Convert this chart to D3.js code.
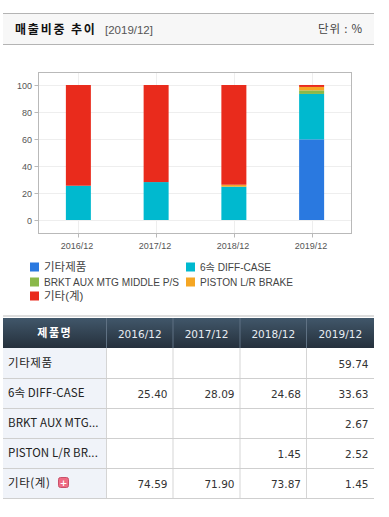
<!DOCTYPE html>
<html>
<head>
<meta charset="utf-8">
<script src="https://cdn.jsdelivr.net/npm/d3@7"></script>
<style>
  html, body { margin: 0; padding: 0; background: #fff; }
  svg { display: block; }
  text { font-family: "DejaVu Sans", "Noto Sans CJK KR", sans-serif; }
  .ko { font-family: "Noto Sans CJK KR", sans-serif; }
  .ar { font-family: "Liberation Sans", "Noto Sans CJK KR", sans-serif; }
</style>
</head>
<body>
<svg id="chart" width="389" height="517"></svg>
<script>
const periods = ["2016/12", "2017/12", "2018/12", "2019/12"];
const products = ["기타제품", "6속 DIFF-CASE", "BRKT AUX MTG MIDDLE P/S", "PISTON L/R BRAKE", "기타(계)"];
const shortNames = ["기타제품", "6속 DIFF-CASE", "BRKT AUX MTG...", "PISTON L/R BR...", "기타(계)"];
const colors = ["#2a79e0", "#00b9cf", "#8ab84a", "#f5a623", "#e92b1c"];
const etcProducts = [null, null, null, 59.74];
const diffCase = [25.40, 28.09, 24.68, 33.63];
const brkt = [null, null, null, 2.67];
const piston = [null, null, 1.45, 2.52];
const etcTotal = [74.59, 71.90, 73.87, 1.45];
const seriesValues = [etcProducts, diffCase, brkt, piston, etcTotal];
const yTicks = [0, 20, 40, 60, 80, 100];

const svg = d3.select("#chart");

// title bar
svg.append("rect").attr("x", 3).attr("y", 14).attr("width", 371).attr("height", 30).attr("fill", "#f7f7f7");
svg.append("line").attr("x1", 3).attr("x2", 374).attr("y1", 13.5).attr("y2", 13.5).attr("stroke", "#b4b4b4");
svg.append("line").attr("x1", 3).attr("x2", 374).attr("y1", 44.5).attr("y2", 44.5).attr("stroke", "#b4b4b4");
svg.append("text").attr("class", "ko").attr("x", 15).attr("y", 34)
  .attr("font-size", 12).attr("font-weight", 700).attr("letter-spacing", 1.8).attr("fill", "#111").text("매출비중 추이");
svg.append("text").attr("class", "ar").attr("x", 105).attr("y", 34)
  .attr("font-size", 11.5).attr("fill", "#555").text("[2019/12]");
svg.append("text").attr("class", "ko").attr("x", 363).attr("y", 33).attr("text-anchor", "end")
  .attr("font-size", 11.5).attr("letter-spacing", 0.8).attr("fill", "#444").text("단위 : %");

// plot
const plotLeft = 38.5, plotRight = 351.5, plotTop = 72.5, plotBottom = 233.5;
const x = d3.scaleBand().domain(periods).range([39.5, 350.5]);
const y = d3.scaleLinear().domain([0, 100]).range([220, 85]);
const barWidth = 25;

const grid = svg.append("g").attr("stroke", "#eeeeee");
yTicks.forEach((t) => {
  grid.append("line").attr("x1", plotLeft).attr("x2", plotRight)
    .attr("y1", Math.round(y(t)) + 0.5).attr("y2", Math.round(y(t)) + 0.5);
});
periods.forEach((p) => {
  const cx = Math.round(x(p) + x.bandwidth() / 2) + 0.5;
  grid.append("line").attr("x1", cx).attr("x2", cx).attr("y1", plotTop).attr("y2", plotBottom);
});

// stacked bars
periods.forEach((p, i) => {
  let total = 0;
  seriesValues.forEach((values, s) => {
    const v = values[i];
    if (v === null) return;
    svg.append("rect")
      .attr("x", x(p) + x.bandwidth() / 2 - barWidth / 2)
      .attr("width", barWidth)
      .attr("y", y(total + v))
      .attr("height", y(total) - y(total + v))
      .attr("fill", colors[s]);
    total += v;
  });
});

svg.append("rect").attr("x", plotLeft).attr("y", plotTop)
  .attr("width", plotRight - plotLeft).attr("height", plotBottom - plotTop)
  .attr("fill", "none").attr("stroke", "#b9b9b9");

// axes labels and ticks
yTicks.forEach((t) => {
  svg.append("line").attr("x1", plotLeft - 4).attr("x2", plotLeft)
    .attr("y1", Math.round(y(t)) + 0.5).attr("y2", Math.round(y(t)) + 0.5).attr("stroke", "#b9b9b9");
  svg.append("text").attr("class", "ar").attr("x", 32).attr("y", y(t) + 3.5).attr("text-anchor", "end")
    .attr("font-size", 9).attr("fill", "#555").text(t);
});
periods.forEach((p) => {
  const cx = Math.round(x(p) + x.bandwidth() / 2) + 0.5;
  svg.append("line").attr("x1", cx).attr("x2", cx).attr("y1", plotBottom).attr("y2", plotBottom + 4).attr("stroke", "#b9b9b9");
  svg.append("text").attr("class", "ar").attr("x", cx - 1.5).attr("y", 249).attr("text-anchor", "middle")
    .attr("font-size", 9).attr("fill", "#555").text(p);
});

// legend
const legendX = [30, 186];
const legendY = [267, 282, 296];
products.forEach((name, i) => {
  const col = i === 4 ? 0 : i % 2;
  const row = Math.floor(i / 2);
  svg.append("rect").attr("x", legendX[col]).attr("y", legendY[row] - 4.5)
    .attr("width", 9).attr("height", 9).attr("fill", colors[i]);
  svg.append("text").attr("class", "ar").attr("x", legendX[col] + 14).attr("y", legendY[row] + 4)
    .attr("font-size", i === 0 || i === 4 ? 11.5 : 10.1).attr("fill", "#444").text(name);
});

// table
const colEdges = [3, 106.5, 173, 240, 306.5, 374];
const headerTop = 318, headerBottom = 348, rowHeight = 30;
const grad = svg.append("defs").append("linearGradient").attr("id", "head").attr("x2", 0).attr("y2", 1);
grad.append("stop").attr("offset", 0).attr("stop-color", "#41576a");
grad.append("stop").attr("offset", 1).attr("stop-color", "#25303c");

svg.append("line").attr("x1", 3).attr("x2", 374).attr("y1", 316).attr("y2", 316).attr("stroke", "#dddddd").attr("stroke-width", 2);
svg.append("rect").attr("x", 3).attr("y", headerTop).attr("width", 371).attr("height", headerBottom - headerTop).attr("fill", "url(#head)");
svg.append("rect").attr("x", 3).attr("y", headerBottom).attr("width", colEdges[1] - 3).attr("height", rowHeight * 5).attr("fill", "#f0f3f9");

colEdges.slice(1, 5).forEach((e) => {
  svg.append("line").attr("x1", e).attr("x2", e).attr("y1", headerTop).attr("y2", headerBottom).attr("stroke", "#5f7183");
  svg.append("line").attr("x1", e).attr("x2", e).attr("y1", headerBottom).attr("y2", headerBottom + rowHeight * 5).attr("stroke", "#d5d5d5");
});
d3.range(1, 6).forEach((r) => {
  const ly = headerBottom + rowHeight * r + 0.5;
  svg.append("line").attr("x1", 3).attr("x2", 374).attr("y1", ly).attr("y2", ly).attr("stroke", "#cfcfcf");
});

svg.append("text").attr("class", "ko").attr("x", (colEdges[0] + colEdges[1]) / 2).attr("y", 337).attr("text-anchor", "middle")
  .attr("font-size", 11).attr("font-weight", 700).attr("letter-spacing", 1.5).attr("fill", "#fff").text("제품명");
periods.forEach((p, i) => {
  svg.append("text").attr("x", (colEdges[i + 1] + colEdges[i + 2]) / 2).attr("y", 338).attr("text-anchor", "middle")
    .attr("font-size", 10.5).attr("font-weight", 400).attr("fill", "#e8edf2").text(p);
});

shortNames.forEach((name, r) => {
  const rowY = headerBottom + rowHeight * r;
  svg.append("text").attr("class", "ko").attr("x", 8).attr("y", rowY + 19)
    .attr("font-size", 11.5).attr("letter-spacing", r === 0 || r === 4 ? 0.6 : 0.1).attr("fill", "#222").text(name);
  seriesValues[r].forEach((v, c) => {
    if (v === null) return;
    svg.append("text").attr("x", colEdges[c + 2] - 5.5).attr("y", rowY + 20).attr("text-anchor", "end")
      .attr("font-size", 10.5).attr("fill", "#333").text(v.toFixed(2));
  });
});

// plus icon beside the last row
svg.append("rect").attr("x", 58.5).attr("y", 477.5).attr("width", 10).attr("height", 10).attr("rx", 2)
  .attr("fill", "#ee6b83").attr("stroke", "#c9506a");
svg.append("text").attr("x", 63.5).attr("y", 486).attr("text-anchor", "middle")
  .attr("font-size", 9).attr("font-weight", 700).attr("fill", "#fff").text("+");
</script>
</body>
</html>
